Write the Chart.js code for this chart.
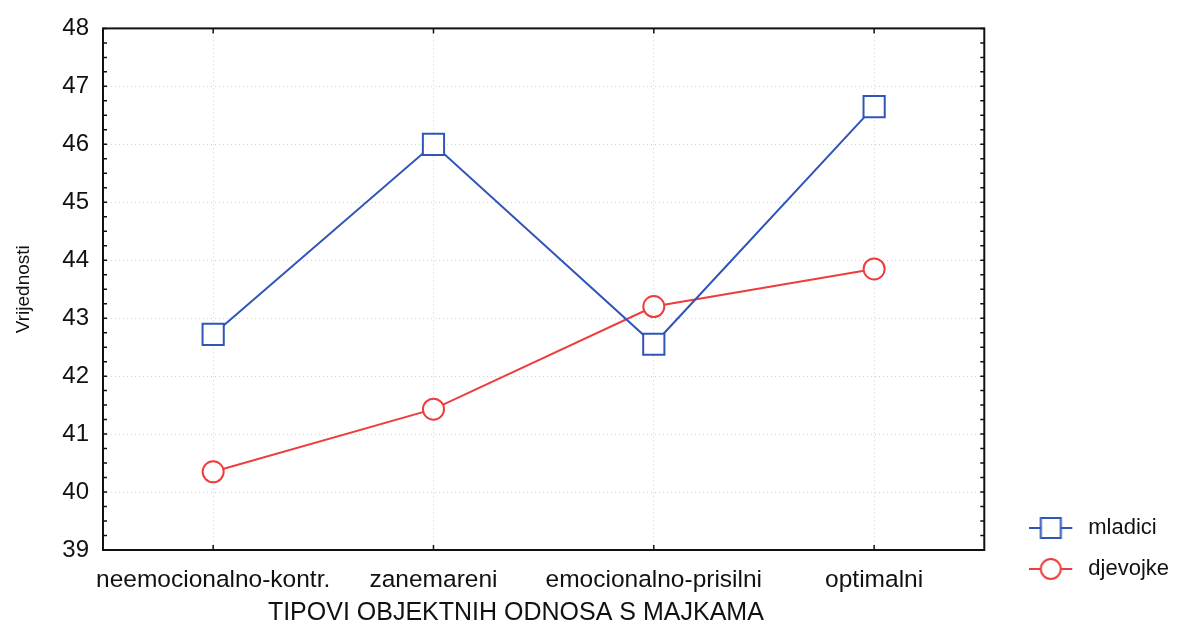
<!DOCTYPE html>
<html>
<head>
<meta charset="utf-8">
<script src="https://cdn.jsdelivr.net/npm/chart.js@4"></script>
<style>
  html, body { margin: 0; padding: 0; background: #fff; }
  #wrap { width: 1186px; height: 629px; }
</style>
</head>
<body>
<div id="wrap"><canvas id="myChart" width="1186" height="629"></canvas></div>
<script>
var categories = ['neemocionalno-kontr.', 'zanemareni', 'emocionalno-prisilni', 'optimalni'];
var mladici = [42.72, 46.0, 42.55, 46.65];
var djevojke = [40.35, 41.43, 43.2, 43.85];
var yTicks = [39, 40, 41, 42, 43, 44, 45, 46, 47, 48];

var blue = '#2f55b8';
var red = '#ee3d3d';
var font = 'Liberation Sans, Arial, sans-serif';

// small line + marker picture for the legend
function legendIcon(color, shape) {
    var c = document.createElement('canvas');
    c.width = 48; c.height = 24;
    var g = c.getContext('2d');
    g.strokeStyle = color;
    g.lineWidth = 2;
    g.beginPath(); g.moveTo(0, 12); g.lineTo(43, 12); g.stroke();
    g.fillStyle = '#fff';
    g.beginPath();
    if (shape === 'rect') g.rect(11.5, 2, 20, 20);
    else g.arc(21.5, 12, 10, 0, Math.PI * 2);
    g.fill(); g.stroke();
    return c;
}

// frame and inward tick marks like the original
var framePlugin = {
    id: 'frame',
    afterLayout: function (chart) {
        // lift the legend a bit so it sits beside the bottom of the plot
        var lg = chart.legend;
        if (lg) { lg.top -= 29; lg.bottom -= 29; }
    },
    afterDraw: function (chart) {
        var a = chart.chartArea, ctx = chart.ctx, y = chart.scales.y, x = chart.scales.x;
        ctx.save();
        ctx.strokeStyle = '#111';
        ctx.lineWidth = 2;
        ctx.strokeRect(a.left, a.top, a.right - a.left, a.bottom - a.top);
        ctx.lineWidth = 1.5;
        ctx.beginPath();
        for (var v = yTicks[0]; v <= yTicks[yTicks.length - 1]; v += 0.25) {
            var py = y.getPixelForValue(v);
            ctx.moveTo(a.left, py); ctx.lineTo(a.left + 4, py);
            ctx.moveTo(a.right, py); ctx.lineTo(a.right - 4, py);
        }
        for (var i = 0; i < categories.length; i++) {
            var px = x.getPixelForValue(i);
            ctx.moveTo(px, a.top); ctx.lineTo(px, a.top + 5);
            ctx.moveTo(px, a.bottom); ctx.lineTo(px, a.bottom - 5);
        }
        ctx.stroke();
        ctx.restore();
    }
};

var ctx = document.getElementById('myChart').getContext('2d');
var myChart = new Chart(ctx, {
    type: 'line',
    data: {
        labels: categories,
        datasets: [{
            label: 'mladici',
            data: mladici,
            borderColor: blue,
            backgroundColor: '#fff',
            borderWidth: 2,
            pointStyle: 'rect',
            pointRadius: 15,
            pointBorderWidth: 2,
            pointBackgroundColor: '#fff',
            tension: 0
        }, {
            label: 'djevojke',
            data: djevojke,
            borderColor: red,
            backgroundColor: '#fff',
            borderWidth: 2,
            pointStyle: 'circle',
            pointRadius: 10.5,
            pointBorderWidth: 2,
            pointBackgroundColor: '#fff',
            tension: 0
        }]
    },
    options: {
        responsive: false,
        animation: false,
        layout: { autoPadding: false, padding: { top: 26, right: 7, bottom: 1, left: 12 } },
        plugins: {
            tooltip: { enabled: false },
            legend: {
                position: 'right',
                align: 'end',
                labels: {
                    usePointStyle: true,
                    pointStyleWidth: 48,
                    padding: 19,
                    color: '#111',
                    font: { family: font, size: 22 },
                    generateLabels: function (chart) {
                        return chart.data.datasets.map(function (ds, i) {
                            return {
                                text: ds.label,
                                pointStyle: legendIcon(ds.borderColor, ds.pointStyle),
                                datasetIndex: i,
                                fontColor: '#111',
                                hidden: false
                            };
                        });
                    }
                }
            }
        },
        scales: {
            x: {
                offset: true,
                afterFit: function (s) { s.height = 78; },
                grid: { color: '#d2d2d2', lineWidth: 1, offset: false, drawTicks: false },
                border: { display: false, dash: [1, 3] },
                ticks: { color: '#111', font: { family: font, size: 24.5 }, padding: 16, maxRotation: 0, autoSkip: false },
                title: { display: true, text: 'TIPOVI OBJEKTNIH ODNOSA S MAJKAMA\u00a0\u00a0\u00a0\u00a0\u00a0\u00a0\u00a0\u00a0', color: '#111', font: { family: font, size: 25 }, padding: { top: 0, bottom: 0 } }
            },
            y: {
                min: 39,
                max: 48,
                afterBuildTicks: function (s) { s.ticks = yTicks.map(function (v) { return { value: v }; }); },
                afterFit: function (s) { s.width = 91; },
                grid: { color: '#d2d2d2', lineWidth: 1, drawTicks: false },
                border: { display: false, dash: [1, 3] },
                ticks: { color: '#111', font: { family: font, size: 24 }, padding: 14 },
                title: { display: true, text: 'Vrijednosti', color: '#111', font: { family: font, size: 19 }, padding: 0 }
            },
            y2: {
                position: 'right',
                min: 39,
                max: 48,
                grid: { drawOnChartArea: false, drawTicks: false },
                border: { display: false },
                ticks: { display: false },
                afterFit: function (s) { s.width = 26; }
            }
        }
    },
    plugins: [framePlugin]
});
</script>
</body>
</html>
